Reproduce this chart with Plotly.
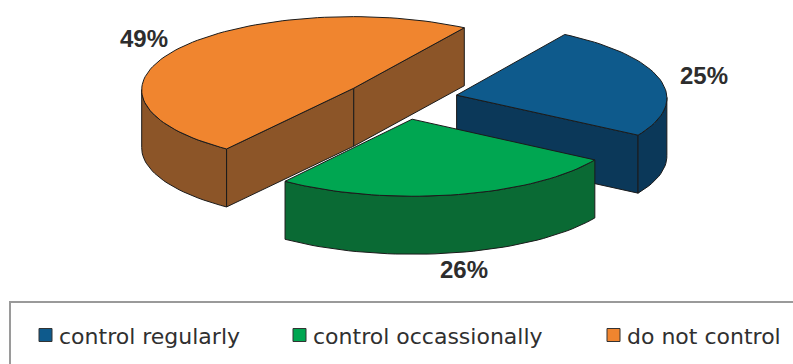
import numpy as np
import plotly.graph_objects as go

# ---------------- data ----------------
labels = ["control regularly", "control occassionally", "do not control"]
values = [25, 26, 49]
pct_text = ["25%", "26%", "49%"]

# ---------------- styles ----------------
top_colors = ["#0E5A8C", "#00A651", "#F0852F"]
side_colors = ["#0B3859", "#0A6A34", "#8C5528"]
edge_color = "#1b1b1b"

W, H = 793, 364
# perspective (homography) of the unit-disk plane onto the page, in pixels
HOMO = [174.93, 122.22, 401.04, 38.68, -59.96, 99.42, -0.01097, 0.02438]
DEPTH = 58.0
EXPLODE = 0.27
START = 90.0
LABEL_R = 1.22


def to_screen(X, Y):
    a, b, c, d, e, f, g, h = HOMO
    X = np.atleast_1d(X).astype(float)
    Y = np.atleast_1d(Y).astype(float)
    w = g * X + h * Y + 1.0
    return np.column_stack([(a * X + b * Y + c) / w, (d * X + e * Y + f) / w])


def unit(phi_deg):
    p = np.radians(np.atleast_1d(phi_deg))
    return np.cos(p), np.sin(p)


fig = go.Figure()


def poly(pts, fill, width=1.0):
    pts = np.asarray(pts)
    xs = list(pts[:, 0]) + [pts[0, 0]]
    ys = list(pts[:, 1]) + [pts[0, 1]]
    fig.add_trace(go.Scatter(x=xs, y=ys, mode="lines", fill="toself",
                             fillcolor=fill,
                             line=dict(color=edge_color, width=width),
                             hoverinfo="skip", showlegend=False))


total = float(sum(values))
slices = []
acc = 0.0
for i, v in enumerate(values):
    a0 = START - acc / total * 360.0
    a1 = a0 - v / total * 360.0
    acc += v
    mid = 0.5 * (a0 + a1)
    mx, my = unit(mid)
    cx, cy = EXPLODE * mx[0], EXPLODE * my[0]
    n = max(10, int(abs(a1 - a0) / 2))
    ux, uy = unit(np.linspace(a0, a1, n))
    arc = to_screen(cx + ux, cy + uy)
    c = to_screen(cx, cy)[0]
    lab = to_screen(cx + LABEL_R * mx[0], cy + LABEL_R * my[0])[0]
    slices.append(dict(i=i, c=c, arc=arc, lab=lab))

# paint back to front
down = np.array([0.0, DEPTH])
for s in sorted(slices, key=lambda d: d["c"][1]):
    i, c, arc = s["i"], s["c"], s["arc"]
    top = np.vstack([c[None, :], arc])
    cen = top.mean(axis=0)

    def visible(p, q):
        d = q - p
        nrm = np.array([-d[1], d[0]])
        if np.dot(nrm, (p + q) / 2 - cen) < 0:
            nrm = -nrm
        return nrm[1] > 1e-9

    # radial faces
    for p, q in ((c, arc[0]), (arc[-1], c)):
        if visible(p, q):
            poly([p, q, q + down, p + down], side_colors[i])
    # outer curved face, grouped in visible strips
    vis = [visible(arc[k], arc[k + 1]) for k in range(len(arc) - 1)]
    k = 0
    while k < len(vis):
        if vis[k]:
            j = k
            while j < len(vis) and vis[j]:
                j += 1
            seg = arc[k:j + 1]
            poly(np.vstack([seg, seg[::-1] + down]), side_colors[i])
            k = j
        else:
            k += 1
    poly(top, top_colors[i])

# percentage labels (pushed below the rim for front slices)
for s in slices:
    d = s["lab"] - s["c"]
    front = np.clip(2.0 * d[1] / np.hypot(*d), 0, 1)
    pos = s["lab"] + np.array([0.0, DEPTH * front])
    fig.add_annotation(x=pos[0], y=pos[1], text=pct_text[s["i"]], showarrow=False,
                       xanchor="center", yanchor="middle",
                       font=dict(family="Liberation Sans, Arial", size=24,
                                 color="#2d2d2d", weight="bold"))

# legend box
fig.add_shape(type="rect", x0=10, x1=W + 20, y0=302, y1=H + 20,
              line=dict(color="#9a9a9a", width=2), fillcolor="rgba(0,0,0,0)",
              layer="below")
leg_sq_x = [39, 293, 607]
leg_y = 335
for i, lab in enumerate(labels):
    x0 = leg_sq_x[i]
    fig.add_shape(type="rect", x0=x0, x1=x0 + 13, y0=leg_y - 6.5, y1=leg_y + 6.5,
                  line=dict(color="#333333", width=1), fillcolor=top_colors[i])
    fig.add_annotation(x=x0 + 18, y=leg_y + 1, text=lab, showarrow=False,
                       xanchor="left", yanchor="middle",
                       font=dict(family="DejaVu Sans", size=22, color="#303030"))

fig.update_xaxes(range=[0, W], visible=False, fixedrange=True)
fig.update_yaxes(range=[H, 0], visible=False, fixedrange=True)
fig.update_layout(width=W, height=H, margin=dict(l=0, r=0, t=0, b=0),
                  paper_bgcolor="white", plot_bgcolor="white", showlegend=False)

fig.write_html("out.html")
